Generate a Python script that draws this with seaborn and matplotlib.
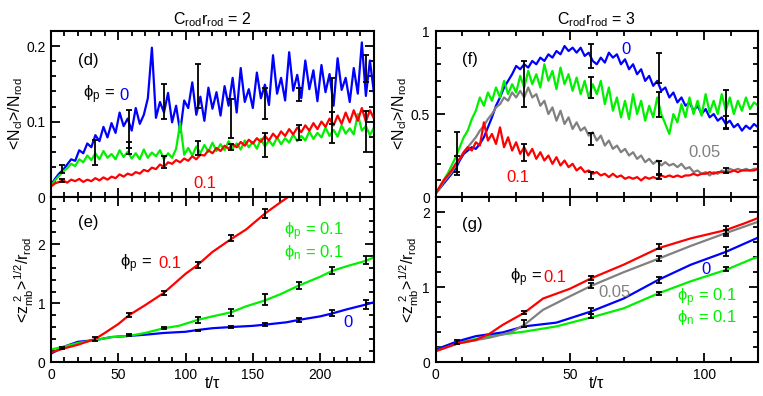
import matplotlib
matplotlib.use("Agg")
import matplotlib.pyplot as plt
import numpy as np
import pandas as pd
import seaborn as sns
from matplotlib.ticker import MultipleLocator, FuncFormatter

# ---------------- panel (d) : <N_cl>/N_rod, C r = 2 ----------------
t_d = [i * 3 for i in range(81)]
d_blue = [0.016, 0.024, 0.031, 0.036, 0.043, 0.050, 0.048, 0.062, 0.058, 0.071,
          0.066, 0.082, 0.074, 0.093, 0.079, 0.098, 0.085, 0.112, 0.094, 0.104,
          0.088, 0.118, 0.097, 0.109, 0.131, 0.198, 0.105, 0.126, 0.112, 0.138,
          0.099, 0.121, 0.086, 0.128, 0.118, 0.152, 0.109, 0.133, 0.101, 0.145,
          0.117, 0.139, 0.108, 0.147, 0.121, 0.158, 0.112, 0.171, 0.126, 0.143,
          0.118, 0.165, 0.131, 0.149, 0.122, 0.188, 0.137, 0.158, 0.128, 0.192,
          0.141, 0.162, 0.131, 0.181, 0.143, 0.168, 0.127, 0.175, 0.139, 0.163,
          0.121, 0.184, 0.142, 0.158, 0.126, 0.171, 0.137, 0.205, 0.134, 0.181,
          0.138]
d_green = [0.015, 0.022, 0.028, 0.034, 0.038, 0.044, 0.041, 0.050, 0.046, 0.055,
           0.049, 0.058, 0.050, 0.061, 0.052, 0.057, 0.050, 0.062, 0.053, 0.060,
           0.051, 0.058, 0.050, 0.063, 0.052, 0.059, 0.054, 0.062, 0.050, 0.058,
           0.052, 0.064, 0.098, 0.056, 0.065, 0.055, 0.067, 0.058, 0.069, 0.060,
           0.072, 0.061, 0.070, 0.062, 0.074, 0.064, 0.071, 0.063, 0.075, 0.066,
           0.073, 0.064, 0.077, 0.067, 0.075, 0.068, 0.079, 0.070, 0.078, 0.072,
           0.083, 0.074, 0.081, 0.075, 0.087, 0.077, 0.085, 0.079, 0.092, 0.081,
           0.089, 0.080, 0.095, 0.084, 0.091, 0.083, 0.110, 0.088, 0.094, 0.082,
           0.092]
d_red = [0.014, 0.018, 0.020, 0.022, 0.019, 0.023, 0.021, 0.024, 0.020, 0.023,
         0.021, 0.025, 0.022, 0.026, 0.023, 0.027, 0.025, 0.030, 0.027, 0.031,
         0.029, 0.033, 0.031, 0.036, 0.034, 0.039, 0.037, 0.043, 0.040, 0.046,
         0.044, 0.049, 0.046, 0.051, 0.048, 0.054, 0.050, 0.056, 0.055, 0.062,
         0.058, 0.065, 0.061, 0.068, 0.064, 0.070, 0.066, 0.073, 0.068, 0.076,
         0.071, 0.078, 0.073, 0.081, 0.075, 0.084, 0.078, 0.087, 0.081, 0.090,
         0.083, 0.092, 0.086, 0.095, 0.088, 0.098, 0.090, 0.100, 0.093, 0.104,
         0.095, 0.108, 0.097, 0.112, 0.099, 0.115, 0.101, 0.118, 0.100, 0.115,
         0.104]
d_err_t = [8, 8, 33, 58, 58, 84, 84, 109, 109, 134, 134, 159, 159, 184, 184, 209, 209, 234, 234]
d_err_y = [0.037, 0.022, 0.059, 0.090, 0.065, 0.127, 0.047, 0.147, 0.065, 0.104, 0.066,
           0.124, 0.069, 0.136, 0.085, 0.115, 0.105, 0.170, 0.087]
d_err_e = [0.005, 0.002, 0.017, 0.025, 0.008, 0.023, 0.008, 0.029, 0.009, 0.026, 0.004,
           0.021, 0.016, 0.009, 0.010, 0.043, 0.008, 0.018, 0.027]

# ---------------- panel (e) : <z_mb^2>^1/2/r_rod, C r = 2 ----------------
e_red_t = [0, 10, 20, 33, 40, 50, 58, 70, 84, 90, 100, 109, 120, 134, 145, 159, 170, 180]
e_red = [0.17, 0.24, 0.30, 0.40, 0.50, 0.65, 0.80, 0.97, 1.18, 1.30, 1.50, 1.65, 1.87,
         2.09, 2.25, 2.52, 2.70, 2.86]
e_green_t = [0, 10, 20, 33, 45, 58, 70, 84, 95, 109, 120, 134, 145, 159, 170, 184, 200,
             209, 220, 234, 240]
e_green = [0.22, 0.27, 0.33, 0.38, 0.43, 0.45, 0.50, 0.58, 0.62, 0.72, 0.78, 0.85, 0.95,
           1.05, 1.15, 1.30, 1.45, 1.55, 1.63, 1.72, 1.78]
e_blue_t = [0, 10, 20, 33, 45, 58, 70, 84, 100, 109, 120, 134, 150, 159, 175, 184, 200,
            209, 220, 234, 240]
e_blue = [0.15, 0.27, 0.35, 0.38, 0.43, 0.45, 0.47, 0.50, 0.52, 0.55, 0.58, 0.60, 0.62,
          0.64, 0.68, 0.72, 0.78, 0.83, 0.90, 0.98, 1.02]
e_err_t = [8, 33, 58, 84, 109, 134, 159, 84, 109, 134, 159, 184, 209, 234,
           58, 109, 134, 159, 184, 209, 234]
e_err_y = [0.24, 0.40, 0.80, 1.18, 1.65, 2.10, 2.52, 0.58, 0.72, 0.84, 1.07, 1.30, 1.55,
           1.73, 0.46, 0.54, 0.60, 0.64, 0.72, 0.83, 0.98]
e_err_e = [0.02, 0.03, 0.03, 0.03, 0.05, 0.05, 0.07, 0.02, 0.05, 0.06, 0.09, 0.06, 0.06,
           0.07, 0.02, 0.01, 0.01, 0.02, 0.03, 0.05, 0.07]

# ---------------- panel (f) : <N_cl>/N_rod, C r = 3 ----------------
t_f = [i * 1.5 for i in range(81)]
f_blue = [0.02, 0.05, 0.08, 0.11, 0.14, 0.17, 0.22, 0.26, 0.28, 0.30, 0.29, 0.32, 0.36,
          0.42, 0.48, 0.55, 0.60, 0.66, 0.70, 0.74, 0.79, 0.77, 0.80, 0.78, 0.82, 0.80,
          0.84, 0.82, 0.86, 0.84, 0.88, 0.86, 0.91, 0.88, 0.90, 0.87, 0.90, 0.85, 0.87,
          0.82, 0.80, 0.84, 0.81, 0.87, 0.84, 0.86, 0.80, 0.83, 0.77, 0.80, 0.74, 0.77,
          0.70, 0.73, 0.67, 0.70, 0.64, 0.66, 0.60, 0.63, 0.57, 0.60, 0.55, 0.57, 0.52,
          0.55, 0.50, 0.53, 0.48, 0.50, 0.46, 0.48, 0.44, 0.46, 0.42, 0.44, 0.40, 0.43,
          0.41, 0.44, 0.42]
f_green = [0.02, 0.06, 0.10, 0.14, 0.19, 0.24, 0.30, 0.36, 0.40, 0.47, 0.52, 0.60, 0.55,
           0.63, 0.58, 0.66, 0.60, 0.70, 0.62, 0.68, 0.63, 0.73, 0.66, 0.76, 0.68, 0.74,
           0.66, 0.80, 0.70, 0.76, 0.65, 0.78, 0.68, 0.74, 0.64, 0.72, 0.62, 0.70, 0.60,
           0.68, 0.62, 0.70, 0.56, 0.66, 0.52, 0.60, 0.48, 0.58, 0.47, 0.62, 0.50, 0.58,
           0.46, 0.55, 0.48, 0.60, 0.50, 0.44, 0.38, 0.50, 0.45, 0.56, 0.48, 0.60, 0.50,
           0.58, 0.49, 0.62, 0.51, 0.58, 0.50, 0.62, 0.52, 0.60, 0.50, 0.58, 0.52, 0.60,
           0.53, 0.57, 0.55]
f_gray = [0.02, 0.05, 0.09, 0.12, 0.15, 0.19, 0.23, 0.27, 0.30, 0.33, 0.36, 0.40, 0.43,
          0.47, 0.50, 0.54, 0.56, 0.60, 0.58, 0.63, 0.60, 0.64, 0.60, 0.66, 0.60, 0.62,
          0.55, 0.58, 0.50, 0.54, 0.46, 0.52, 0.44, 0.48, 0.41, 0.45, 0.40, 0.42, 0.37,
          0.39, 0.34, 0.37, 0.31, 0.34, 0.29, 0.31, 0.27, 0.29, 0.25, 0.27, 0.23, 0.25,
          0.21, 0.23, 0.20, 0.22, 0.19, 0.21, 0.19, 0.20, 0.18, 0.20, 0.17, 0.18, 0.15,
          0.16, 0.14, 0.15, 0.13, 0.15, 0.14, 0.16, 0.15, 0.17, 0.16, 0.17, 0.16, 0.17,
          0.16, 0.17, 0.17]
f_red = [0.02, 0.06, 0.10, 0.13, 0.16, 0.20, 0.23, 0.27, 0.30, 0.28, 0.33, 0.31, 0.45,
         0.34, 0.38, 0.32, 0.42, 0.30, 0.36, 0.28, 0.33, 0.26, 0.30, 0.25, 0.29, 0.23,
         0.27, 0.22, 0.25, 0.20, 0.24, 0.19, 0.22, 0.18, 0.20, 0.16, 0.18, 0.15, 0.16,
         0.14, 0.15, 0.13, 0.14, 0.12, 0.14, 0.12, 0.13, 0.11, 0.12, 0.11, 0.12, 0.10,
         0.12, 0.11, 0.12, 0.11, 0.13, 0.12, 0.13, 0.12, 0.13, 0.12, 0.13, 0.13, 0.14,
         0.13, 0.14, 0.14, 0.15, 0.14, 0.15, 0.15, 0.15, 0.15, 0.16, 0.15, 0.16, 0.16,
         0.16, 0.16, 0.17]
f_err_t = [8, 8, 33, 33, 58, 58, 58, 58, 83, 83, 83, 83, 108, 108, 108]
f_err_y = [0.26, 0.20, 0.68, 0.27, 0.85, 0.66, 0.35, 0.13, 0.78, 0.56, 0.18, 0.12, 0.53, 0.45, 0.16]
f_err_e = [0.13, 0.05, 0.14, 0.05, 0.075, 0.065, 0.035, 0.02, 0.09, 0.075, 0.04, 0.01, 0.116, 0.04, 0.015]

# ---------------- panel (g) : <z_mb^2>^1/2/r_rod, C r = 3 ----------------
g_red_t = [0, 8, 15, 20, 25, 33, 40, 50, 58, 70, 83, 95, 108, 115, 120]
g_red = [0.15, 0.25, 0.30, 0.38, 0.50, 0.66, 0.85, 0.98, 1.12, 1.30, 1.52, 1.65, 1.76, 1.85, 1.92]
g_gray_t = [0, 8, 20, 28, 33, 40, 50, 58, 70, 83, 95, 108, 120]
g_gray = [0.15, 0.25, 0.33, 0.40, 0.50, 0.70, 0.88, 1.02, 1.20, 1.38, 1.55, 1.72, 1.87]
g_blue_t = [0, 8, 15, 25, 33, 45, 58, 70, 83, 95, 108, 120]
g_blue = [0.17, 0.28, 0.35, 0.40, 0.48, 0.53, 0.68, 0.85, 1.10, 1.30, 1.47, 1.66]
g_green_t = [0, 8, 20, 33, 45, 58, 70, 83, 95, 108, 118, 120]
g_green = [0.18, 0.26, 0.35, 0.41, 0.48, 0.60, 0.72, 0.92, 1.08, 1.23, 1.38, 1.40]
g_err_t = [8, 33, 33, 58, 58, 58, 58, 83, 83, 83, 83, 108, 108, 108, 108]
g_err_y = [0.27, 0.67, 0.52, 1.12, 1.02, 0.68, 0.62, 1.54, 1.38, 1.10, 0.92, 1.76, 1.72, 1.47, 1.24]
g_err_e = [0.03, 0.02, 0.05, 0.03, 0.03, 0.04, 0.03, 0.03, 0.03, 0.04, 0.02, 0.05, 0.04, 0.06, 0.03]

BLUE, GREEN, RED, GRAY = "#0000ff", "#00f000", "#ff0000", "#808080"

sns.set_style("ticks")
plt.rcParams["font.family"] = ["Liberation Sans", "DejaVu Sans"]
plt.rcParams["mathtext.fontset"] = "custom"
plt.rcParams["mathtext.rm"] = "Liberation Sans"
for k in ("text.color", "axes.labelcolor", "xtick.color", "ytick.color", "axes.edgecolor"):
    plt.rcParams[k] = "black"

fig = plt.figure(figsize=(7.63, 3.96), dpi=100)
ax_d = fig.add_axes([0.0668, 0.5025, 0.4233, 0.419])
ax_e = fig.add_axes([0.0668, 0.0846, 0.4233, 0.418])
ax_f = fig.add_axes([0.5708, 0.5025, 0.4227, 0.419])
ax_g = fig.add_axes([0.5708, 0.0846, 0.4227, 0.418])

LW = 1.6


def draw(ax, t, y, color):
    sns.lineplot(x=t, y=y, ax=ax, color=color, lw=LW, estimator=None, sort=False)


def bars(ax, t, y, e):
    ax.errorbar(t, y, yerr=e, fmt="none", ecolor="black", elinewidth=1.3,
                capsize=2.2, capthick=1.3, zorder=5)


# (d)
draw(ax_d, t_d, d_blue, BLUE)
draw(ax_d, t_d, d_green, GREEN)
draw(ax_d, t_d, d_red, RED)
bars(ax_d, d_err_t, d_err_y, d_err_e)
# (e)
draw(ax_e, e_blue_t, e_blue, BLUE)
draw(ax_e, e_green_t, e_green, GREEN)
draw(ax_e, e_red_t, e_red, RED)
bars(ax_e, e_err_t, e_err_y, e_err_e)
# (f)
draw(ax_f, t_f, f_blue, BLUE)
draw(ax_f, t_f, f_green, GREEN)
draw(ax_f, t_f, f_gray, GRAY)
draw(ax_f, t_f, f_red, RED)
bars(ax_f, f_err_t, f_err_y, f_err_e)
# (g)
draw(ax_g, g_green_t, g_green, GREEN)
draw(ax_g, g_blue_t, g_blue, BLUE)
draw(ax_g, g_gray_t, g_gray, GRAY)
draw(ax_g, g_red_t, g_red, RED)
bars(ax_g, g_err_t, g_err_y, g_err_e)

# axes limits and ticks
ax_d.set(xlim=(0, 240), ylim=(0, 0.22))
ax_e.set(xlim=(0, 240), ylim=(0, 2.8))
ax_f.set(xlim=(0, 120), ylim=(0, 1.0))
ax_g.set(xlim=(0, 120), ylim=(0, 2.2))

ax_d.yaxis.set_major_locator(MultipleLocator(0.1))
ax_d.yaxis.set_minor_locator(MultipleLocator(0.02))
ax_e.yaxis.set_major_locator(MultipleLocator(1))
ax_e.yaxis.set_minor_locator(MultipleLocator(0.2))
ax_f.yaxis.set_major_locator(MultipleLocator(0.5))
ax_f.yaxis.set_minor_locator(MultipleLocator(0.1))
ax_g.yaxis.set_major_locator(MultipleLocator(1))
ax_g.yaxis.set_minor_locator(MultipleLocator(0.2))

fmt = lambda v, p: "0" if v == 0 else f"{v:g}"
for ax in (ax_d, ax_e, ax_f, ax_g):
    ax.xaxis.set_major_locator(MultipleLocator(50))
    ax.xaxis.set_minor_locator(MultipleLocator(10))
    ax.yaxis.set_major_formatter(FuncFormatter(fmt))
    ax.tick_params(which="both", direction="in", top=True, right=True, width=1.3,
                   labelsize=10, pad=4, colors="black")
    ax.tick_params(which="major", length=6.5)
    ax.tick_params(which="minor", length=3.5)
    for s in ax.spines.values():
        s.set_linewidth(1.5)
        s.set_color("black")
    ax.set_xlabel("")
    ax.set_ylabel("")
for ax in (ax_d, ax_f):
    ax.tick_params(labelbottom=False)

ax_d.set_title(r"$\mathregular{C_{rod}r_{rod}}$ = 2", fontsize=11.5, pad=5)
ax_f.set_title(r"$\mathregular{C_{rod}r_{rod}}$ = 3", fontsize=11.5, pad=5)

ylab_n = r"<$\mathregular{N_{cl}}$>/$\mathregular{N_{rod}}$"
ylab_z = r"<$\mathregular{z_{mb}^{\ 2}}$>$\mathregular{^{1/2}}$/$\mathregular{r_{rod}}$"
ax_d.set_ylabel(ylab_n, fontsize=11.5, labelpad=1)
ax_f.set_ylabel(ylab_n, fontsize=11.5, labelpad=1)
ax_e.set_ylabel(ylab_z, fontsize=11.5, labelpad=1)
ax_g.set_ylabel(ylab_z, fontsize=11.5, labelpad=1)
ax_e.set_xlabel("t/τ", fontsize=11.5, labelpad=-4)
ax_g.set_xlabel("t/τ", fontsize=11.5, labelpad=-4)

phi_p = r"ϕ$\mathregular{_p}$ = "
phi_pn = "ϕ$\\mathregular{_p}$ = 0.1\nϕ$\\mathregular{_n}$ = 0.1"
FS = 12

# (d) annotations
ax_d.text(20, 0.181, "(d)", fontsize=FS, va="center")
ax_d.text(24, 0.135, phi_p, fontsize=FS, va="center")
ax_d.text(51, 0.135, "0", fontsize=FS, va="center", color=BLUE)
ax_d.text(106, 0.0185, "0.1", fontsize=FS, va="center", color=RED)
# (e)
ax_e.text(20, 2.37, "(e)", fontsize=FS, va="center")
ax_e.text(51, 1.67, phi_p, fontsize=FS, va="center")
ax_e.text(80, 1.67, "0.1", fontsize=FS, va="center", color=RED)
ax_e.text(173, 2.05, phi_pn, fontsize=FS, va="center", color=GREEN, linespacing=0.95)
ax_e.text(217, 0.67, "0", fontsize=FS, va="center", color=BLUE)
# (f)
ax_f.text(10, 0.83, "(f)", fontsize=FS, va="center")
ax_f.text(69, 0.89, "0", fontsize=FS, va="center", color=BLUE)
ax_f.text(94, 0.27, "0.05", fontsize=FS, va="center", color=GRAY)
ax_f.text(26.5, 0.115, "0.1", fontsize=FS, va="center", color=RED)
# (g)
ax_g.text(10, 1.83, "(g)", fontsize=FS, va="center")
ax_g.text(27.6, 1.13, phi_p, fontsize=FS, va="center")
ax_g.text(40, 1.13, "0.1", fontsize=FS, va="center", color=RED)
ax_g.text(60.7, 0.93, "0.05", fontsize=FS, va="center", color=GRAY)
ax_g.text(99, 1.24, "0", fontsize=FS, va="center", color=BLUE)
ax_g.text(89.7, 0.745, phi_pn, fontsize=FS, va="center", color=GREEN, linespacing=0.95)

fig.savefig("out.png", dpi=100)
